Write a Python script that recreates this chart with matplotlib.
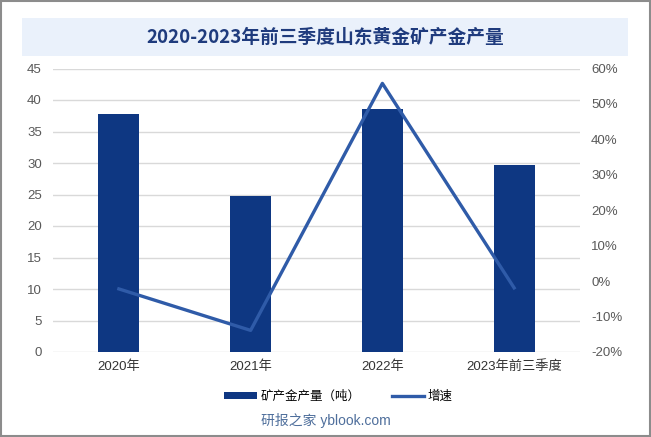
import matplotlib.pyplot as plt
import matplotlib.patches as patches
from matplotlib.ticker import FuncFormatter

plt.rcParams['font.family'] = ['Liberation Sans', 'Noto Sans CJK SC', 'DejaVu Sans']

# data
categories = ["2020年", "2021年", "2022年", "2023年前三季度"]
output_t = [37.8, 24.8, 38.6, 29.7]
growth = [-2.2, -13.9, 55.8, -1.9]

bar_color = "#0E3782"
line_color = "#2F5BA8"
tick_color = "#595959"

fig = plt.figure(figsize=(6.51, 4.37), dpi=100)

# outer frame
fig.add_artist(patches.Rectangle((0.001, 0.002), 0.997, 0.996, transform=fig.transFigure,
                                 fill=False, edgecolor="#8C8C8C", linewidth=1.5))
# title band
fig.add_artist(patches.Rectangle((22 / 651, 1 - 56 / 437), 606 / 651, 38 / 437,
                                 transform=fig.transFigure, facecolor="#EAF1FB", edgecolor="none"))
fig.text(0.5, 1 - 37 / 437, "2020-2023年前三季度山东黄金矿产金产量", ha="center", va="center",
         fontsize=13.5, fontweight="bold", color="#1F3B7D",
         family=['Noto Sans CJK SC', 'DejaVu Sans'])

ax = fig.add_axes([53 / 651, 1 - 352 / 437, 527 / 651, 283.5 / 437])
x = range(len(categories))
ax.bar(x, output_t, width=0.31, color=bar_color, zorder=2, label="矿产金产量（吨）")
ax.set_ylim(0, 45)
ax.set_yticks(range(0, 46, 5))
ax.set_xlim(-0.5, len(categories) - 0.5)
ax.set_xticks(list(x))
ax.set_xticklabels(categories)
ax.grid(axis="y", color="#D9D9D9", linewidth=1, zorder=0)
for s in ax.spines.values():
    s.set_visible(False)
ax.tick_params(length=0, labelsize=9.5, colors=tick_color, pad=8)
ax.tick_params(axis="x", colors="#333333", pad=6)

ax2 = ax.twinx()
ax2.plot(list(x), growth, color=line_color, linewidth=2.4, zorder=3, label="增速")
ax2.set_ylim(-20, 60)
ax2.set_yticks(range(-20, 61, 10))
ax2.yaxis.set_major_formatter(FuncFormatter(lambda v, p: f"{v:.0f}%"))
for s in ax2.spines.values():
    s.set_visible(False)
ax2.tick_params(length=0, labelsize=9.5, colors=tick_color, pad=8)

h1, l1 = ax.get_legend_handles_labels()
h2, l2 = ax2.get_legend_handles_labels()
fig.legend(h1 + h2, l1 + l2, loc="center", bbox_to_anchor=(0.52, 1 - 397 / 437), ncol=2,
           frameon=False, fontsize=9, handlelength=2.6, handleheight=0.5, columnspacing=2.5,
           handletextpad=0.3)

fig.text(0.5, 1 - 421 / 437, "研报之家 yblook.com", ha="center", va="center",
         fontsize=10, color="#4F6F9C")

fig.savefig("out.png", dpi=100)
